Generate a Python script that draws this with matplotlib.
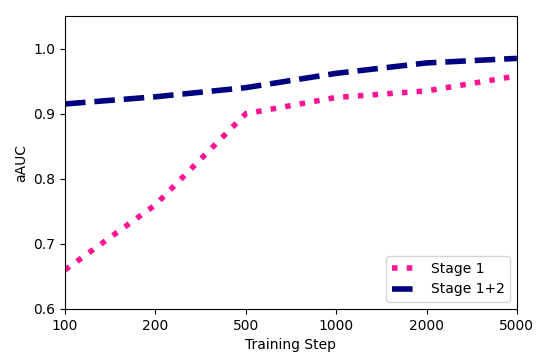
import matplotlib
matplotlib.use("Agg")
import matplotlib.pyplot as plt

steps = ["100", "200", "500", "1000", "2000", "5000"]
stage1 = [0.660, 0.760, 0.900, 0.925, 0.935, 0.958]
stage12 = [0.915, 0.926, 0.940, 0.962, 0.978, 0.985]

fig = plt.figure(figsize=(5.39, 3.57), dpi=100)
ax = fig.add_axes([0.1206, 0.1345, 0.8384, 0.8205])
x = list(range(len(steps)))
ax.plot(x, stage1, linestyle=":", color="deeppink", linewidth=4, label="Stage 1")
ax.plot(x, stage12, linestyle="--", color="navy", linewidth=4, label="Stage 1+2")
ax.set_xticks(x)
ax.set_xticklabels(steps)
ax.set_xlim(0, 5)
ax.set_ylim(0.6, 1.05)
ax.set_yticks([0.6, 0.7, 0.8, 0.9, 1.0])
ax.set_xlabel("Training Step")
ax.set_ylabel("aAUC")
ax.legend(loc="lower right")
fig.savefig("out.png", dpi=100)
